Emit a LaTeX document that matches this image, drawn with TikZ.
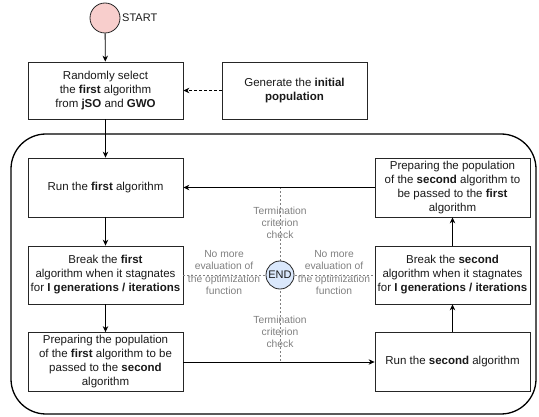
\documentclass[tikz,border=0pt]{standalone}
\usepackage{fontspec}
\setmainfont{Liberation Sans}
\usetikzlibrary{arrows.meta}
\definecolor{txt}{HTML}{1A1A1A}
\definecolor{lbl}{HTML}{808080}
\definecolor{startfill}{HTML}{F8CECC}
\definecolor{endfill}{HTML}{DAE8FC}
\tikzset{
  box/.style={draw=black!85, line width=0.8pt, fill=white, align=center, text=txt,
    minimum width=155pt, minimum height=58pt, inner sep=1pt,
    font=\fontsize{11.5}{14}\selectfont},
  lab/.style={align=center, text=lbl, inner sep=0pt, font=\fontsize{10.3}{12.3}\selectfont},
  arr/.style={draw=black, line width=0.8pt, -{Stealth[length=6pt,width=5.5pt]}},
  dsh/.style={draw=lbl, line width=0.6pt, dash pattern=on 2pt off 2pt},
}
\begin{document}
\begin{tikzpicture}[x=1pt,y=-1pt]
\useasboundingbox (0,0) rectangle (539,417);
% big loop frame
\draw[line width=1.3pt, rounded corners=35pt] (11,134) rectangle (536,414);

% start
\node[circle, draw=black!85, line width=0.8pt, fill=startfill, minimum size=30pt, inner sep=0pt] (start) at (105,18) {};
\node[anchor=west, text=txt, inner sep=0pt, font=\fontsize{11}{13}\selectfont] (startlab) at (122,18) {START};

\node[box, minimum height=57pt] (sel) at (105.5,90.5) {Randomly select\\the \textbf{first} algorithm\\from \textbf{jSO} and \textbf{GWO}};
\node[box, minimum width=145pt, minimum height=57pt] (gen) at (294.5,90.5) {Generate the \textbf{initial}\\\textbf{population}};

\node[box, minimum height=59pt] (run1) at (105.5,187.5) {Run the \textbf{first} algorithm};
\node[box] (brk1) at (105.5,275) {Break the \textbf{first}\\algorithm when it stagnates\\for \textbf{I generations / iterations}};
\node[box, minimum height=59pt] (prep1) at (105.5,362) {Preparing the population\\of the \textbf{first} algorithm to be\\passed to the \textbf{second}\\algorithm};

\node[box, minimum height=59pt] (prep2) at (452.5,187.5) {Preparing the population\\of the \textbf{second} algorithm to\\be passed to the \textbf{first}\\algorithm};
\node[box] (brk2) at (452.5,275) {Break the \textbf{second}\\algorithm when it stagnates\\for \textbf{I generations / iterations}};
\node[box, minimum height=59pt] (run2) at (452.5,362) {Run the \textbf{second} algorithm};

% END and dashed checks
\coordinate (ctop) at (280,187.5);
\coordinate (cbot) at (280,362);
\draw[dsh] (ctop) -- (cbot);
\draw[dsh] (brk1.east) -- (brk2.east -| brk2.west);
\node[circle, draw=black!85, line width=0.8pt, fill=endfill, minimum size=28pt, inner sep=0pt, text=txt, font=\fontsize{11}{13}\selectfont] (end) at (280,275) {END};

\node[lab] (t1) at (280,223) {Termination\\criterion\\check};
\node[lab] (t2) at (280,332) {Termination\\criterion\\check};
\node[lab] (n1) at (224,272.5) {No more\\evaluation of\\the optimization\\function};
\node[lab] (n2) at (334,272.5) {No more\\evaluation of\\the optimization\\function};

% arrows
\draw[arr] (start) -- (sel);
\draw[arr, dashed, dash pattern=on 3pt off 2pt] (gen) -- (sel);
\draw[arr] (sel) -- (run1);
\draw[arr] (run1) -- (brk1);
\draw[arr] (brk1) -- (prep1);
\draw[arr] (prep1) -- (run2);
\draw[arr] (run2) -- (brk2);
\draw[arr] (brk2) -- (prep2);
\draw[arr] (prep2) -- (run1);
\end{tikzpicture}
\end{document}
